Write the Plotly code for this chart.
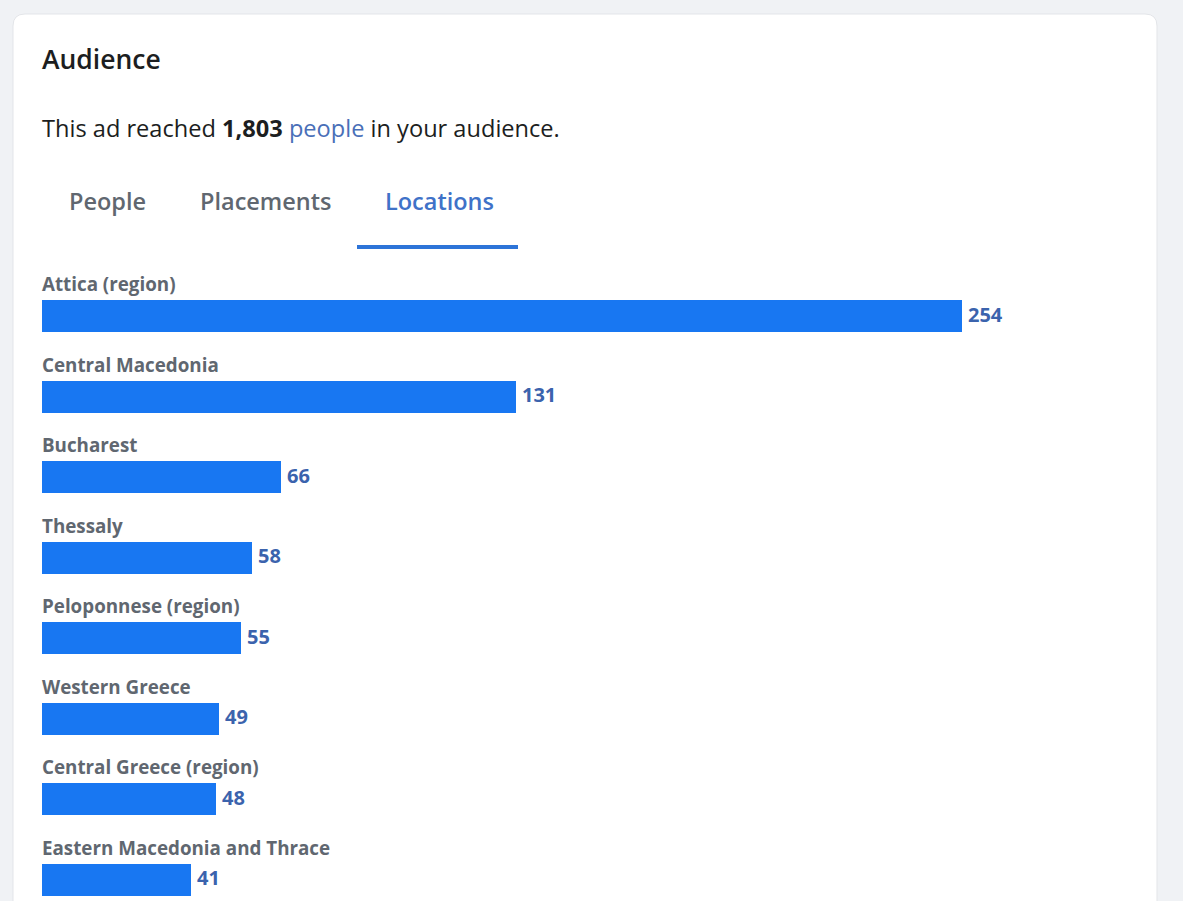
import plotly.graph_objects as go

# Reach by location
regions = [
    "Attica (region)",
    "Central Macedonia",
    "Bucharest",
    "Thessaly",
    "Peloponnese (region)",
    "Western Greece",
    "Central Greece (region)",
    "Eastern Macedonia and Thrace",
]
reach = [254, 131, 66, 58, 55, 49, 48, 41]

title_text = "Audience"
summary_total = "1,803"
tabs = ["People", "Placements", "Locations"]

W, H = 1183, 901
FONT = "Open Sans"
BAR_BLUE = "#1877f2"
LABEL_GREY = "#606770"
VALUE_BLUE = "#3b63ad"
TEXT_DARK = "#1c1e21"
PAGE_BG = "#f0f2f5"

# axis scaling: pixel-per-unit mapping used by the full-figure plot area
x_ppu = 3.622
x0_px = 42
x_range = [-x0_px / x_ppu, (W - x0_px) / x_ppu]
y_ppu = 80.57
y0_px = 316
y_low = -y0_px / y_ppu
y_high = y_low + H / y_ppu

idx = list(range(len(regions)))

fig = go.Figure()
fig.add_trace(go.Bar(
    x=reach,
    y=idx,
    orientation="h",
    width=32 / y_ppu,
    marker=dict(color=BAR_BLUE, line=dict(width=0)),
    hoverinfo="skip",
))

annotations = []
for i, (name, v) in enumerate(zip(regions, reach)):
    annotations.append(dict(
        x=0, y=i, xref="x", yref="y", text=f"<b>{name}</b>",
        xanchor="left", yanchor="middle", xshift=-2, yshift=32, showarrow=False,
        font=dict(family=FONT, size=18.8, color=LABEL_GREY),
    ))
    annotations.append(dict(
        x=v, y=i, xref="x", yref="y", text=f"<b>{v}</b>",
        xanchor="left", yanchor="middle", xshift=4, yshift=2, showarrow=False,
        font=dict(family=FONT, size=20, color=VALUE_BLUE),
    ))


def px(x):
    return x / W


def py(y):
    return 1 - y / H


# header block
annotations.append(dict(
    x=px(40), y=py(59), xref="paper", yref="paper", text=title_text,
    xanchor="left", yanchor="middle", showarrow=False,
    font=dict(family=FONT, size=26.5, color=TEXT_DARK, weight=600),
))
annotations.append(dict(
    x=px(40), y=py(128), xref="paper", yref="paper",
    text=(f"This ad reached <b>{summary_total}</b> "
          f"<span style='color:#4a6fb8'>people</span> in your audience."),
    xanchor="left", yanchor="middle", showarrow=False,
    font=dict(family=FONT, size=23.6, color=TEXT_DARK),
))
tab_x = [67, 198, 383]
for t, tx in zip(tabs, tab_x):
    annotations.append(dict(
        x=px(tx), y=py(201), xref="paper", yref="paper", text=t,
        xanchor="left", yanchor="middle", showarrow=False,
        font=dict(family=FONT, size=23.5,
                  color="#3f72c8" if t == "Locations" else LABEL_GREY,
                  weight=600),
    ))

# card with rounded corners
r = 12
L, T, R, B = 13, 14, 1157, 930


def card_path():
    pts = [
        f"M {px(L + r)},{py(T)}",
        f"L {px(R - r)},{py(T)}",
        f"Q {px(R)},{py(T)} {px(R)},{py(T + r)}",
        f"L {px(R)},{py(B)}",
        f"L {px(L)},{py(B)}",
        f"L {px(L)},{py(T + r)}",
        f"Q {px(L)},{py(T)} {px(L + r)},{py(T)}",
        "Z",
    ]
    return " ".join(pts)


shapes = [
    dict(type="path", path=card_path(), xref="paper", yref="paper",
         fillcolor="white", line=dict(color="#e3e5e9", width=1), layer="below"),
    # active tab underline
    dict(type="rect", xref="paper", yref="paper",
         x0=px(357), x1=px(518), y0=py(249), y1=py(245),
         fillcolor="#2d74d8", line=dict(width=0), layer="above"),
]

fig.update_layout(
    width=W, height=H,
    margin=dict(l=0, r=0, t=0, b=0),
    paper_bgcolor=PAGE_BG,
    plot_bgcolor="rgba(0,0,0,0)",
    showlegend=False,
    xaxis=dict(range=x_range, visible=False, fixedrange=True),
    yaxis=dict(range=[y_high, y_low], visible=False, fixedrange=True),
    annotations=annotations,
    shapes=shapes,
    bargap=0,
)

fig.write_html("out.html", config={"displayModeBar": False})
